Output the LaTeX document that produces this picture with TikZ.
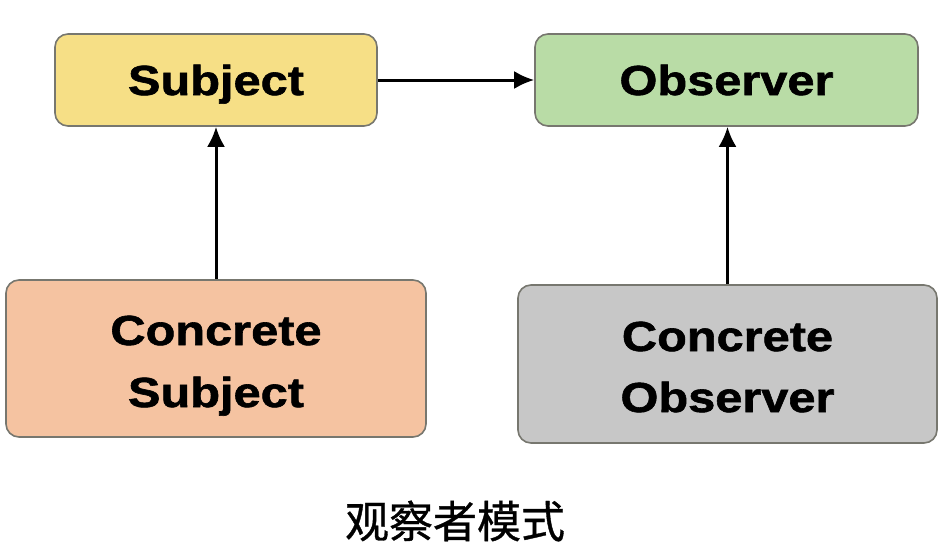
\documentclass[tikz,border=0pt]{standalone}
\usepackage{fontspec}
\setmainfont{Liberation Sans}
\newfontfamily\boxfont{Liberation Sans Bold}[FakeStretch=1.16, FakeBold=1.4]
\newfontfamily\cjk{Noto Sans CJK SC}[FakeBold=0.8]
\usetikzlibrary{arrows.meta}
\definecolor{subjfill}{HTML}{F6DF86}
\definecolor{obsfill}{HTML}{B9DCA6}
\definecolor{csfill}{HTML}{F5C3A1}
\definecolor{cofill}{HTML}{C7C7C7}
\definecolor{edge}{HTML}{77776F}
\begin{document}
\begin{tikzpicture}[x=1pt,y=-1pt,
  box/.style={draw=edge, line width=1.6pt, rounded corners=13pt, inner sep=0pt},
  lbl/.style={anchor=base, inner sep=0pt, font=\boxfont\fontsize{42}{62}\selectfont},
  conn/.style={line width=3pt, -{Latex[length=20pt,width=18pt]}}]
\useasboundingbox (0,0) rectangle (952,551);
\fill[white] (0,0) rectangle (952,551);
\node[box, fill=subjfill, minimum width=322pt, minimum height=92pt] (subj) at (216,80) {};
\node[box, fill=obsfill, minimum width=383pt, minimum height=92pt] (obs) at (726.5,80) {};
\node[box, fill=csfill, minimum width=420pt, minimum height=157pt] (cs) at (216,358.5) {};
\node[box, fill=cofill, minimum width=419pt, minimum height=158pt] (co) at (727.5,364) {};
\node[lbl] (subjt) at (216,95) {Subject};
\node[lbl] (obst) at (726.5,95) {Observer};
\node[lbl] (cst1) at (216,345) {Concrete};
\node[lbl] (cst2) at (216,407) {Subject};
\node[lbl] (cot1) at (727.5,351) {Concrete};
\node[lbl] (cot2) at (727.5,412) {Observer};
\draw[conn] (subj.east) -- (obs.west);
\draw[conn] (cs.north) -- (subj.south);
\draw[conn] (co.north) -- (co.north |- obs.south);
\node[font=\cjk\fontsize{44}{44}\selectfont] (cap) at (455,521) {观察者模式};
\end{tikzpicture}
\end{document}
